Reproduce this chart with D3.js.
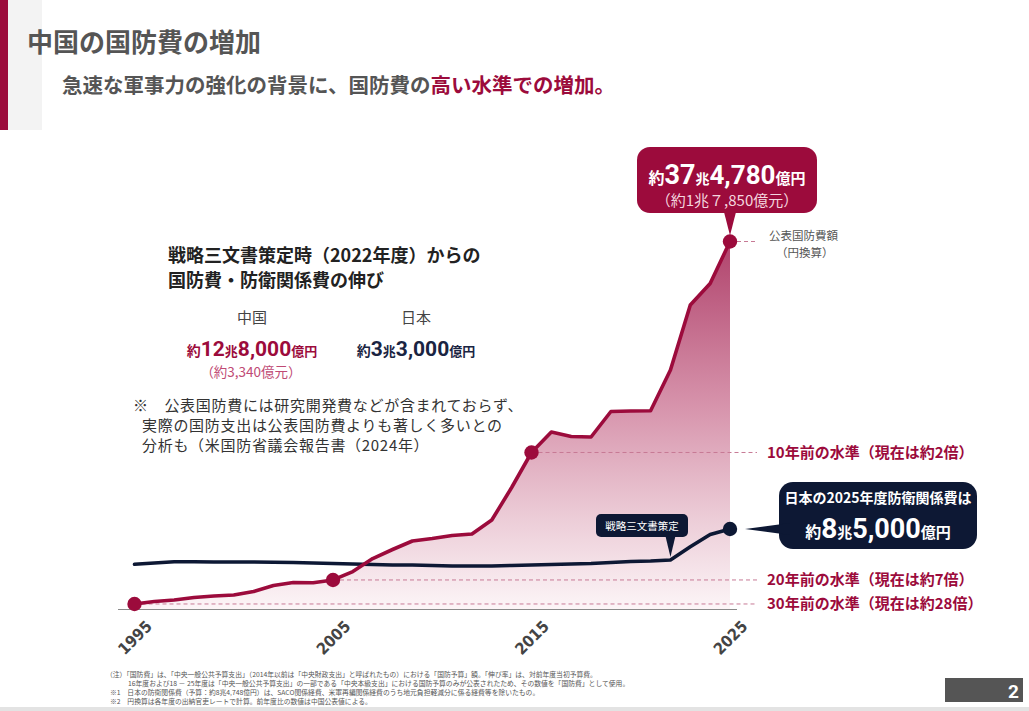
<!DOCTYPE html>
<html><head><meta charset="utf-8">
<script src="https://cdn.jsdelivr.net/npm/d3@7"></script>
<style>
html,body{margin:0;padding:0;background:#fff;}
svg{display:block;font-family:"Noto Sans CJK JP","Noto Sans",sans-serif;}
</style></head><body>
<svg id="chart" width="1029" height="711"></svg>
<script>
// ---- data (兆円) ----
const years = [1995,1996,1997,1998,1999,2000,2001,2002,2003,2004,2005,2006,2007,2008,2009,2010,
  2011,2012,2013,2014,2015,2016,2017,2018,2019,2020,2021,2022,2023,2024,2025];
const chinaValues = [0.94,1.19,1.34,1.59,1.74,1.84,2.20,2.80,3.10,3.08,3.36,4.21,5.52,6.43,7.29,7.54,
  7.84,7.99,9.40,12.68,16.21,18.27,17.82,17.77,20.34,20.39,20.42,24.52,31.08,33.24,37.478];
const japanValues = [4.94,5.07,5.20,5.19,5.17,5.17,5.17,5.15,5.12,5.07,5.02,4.97,4.92,4.87,4.87,4.82,
  4.77,4.77,4.77,4.82,4.87,4.92,4.97,5.02,5.12,5.22,5.27,5.37,6.70,7.94,8.50];
const markerYears = [1995,2005,2015,2025];
const tickYears = [1995,2005,2015,2025];
const levelYears = [2015,2005,1995];
const levelLabels = ["10年前の水準（現在は約2倍）","20年前の水準（現在は約7倍）","30年前の水準（現在は約28倍）"];
const strategyYear = 2022;
const footnotes = [
  "（注）「国防費」は、「中央一般公共予算支出」（2014年以前は「中央財政支出」と呼ばれたもの）における「国防予算」額。「伸び率」は、対前年度当初予算費。",
  "16年度および18 － 25年度は「中央一般公共予算支出」の一部である「中央本級支出」における国防予算のみが公表されたため、その数値を「国防費」として使用。",
  "※1　日本の防衛関係費（予算：約8兆4,748億円）は、SACO関係経費、米軍再編関係経費のうち地元負担軽減分に係る経費等を除いたもの。",
  "※2　円換算は各年度の出納官吏レートで計算。前年度比の数値は中国公表値による。"
];

const CRIMSON = "#9c0b3c", NAVY = "#0d1834", GRAY = "#555";
const NUM = "Roboto,'Noto Sans',sans-serif";

const svg = d3.select("#chart");
svg.append("rect").attr("width",1029).attr("height",711).attr("fill","#fff");

// header decoration
svg.append("rect").attr("x",0).attr("y",0).attr("width",8).attr("height",130).attr("fill",CRIMSON);
svg.append("rect").attr("x",8).attr("y",0).attr("width",34).attr("height",130).attr("fill","#f3f3f3");

svg.append("text").attr("x",27).attr("y",52).attr("font-size",26).attr("font-weight","bold")
  .attr("fill",GRAY).text("中国の国防費の増加");
const sub = svg.append("text").attr("x",62).attr("y",93).attr("font-size",20.5).attr("font-weight","bold").attr("fill",GRAY);
sub.append("tspan").text("急速な軍事力の強化の背景に、国防費の");
sub.append("tspan").attr("fill",CRIMSON).text("高い水準での増加。");

// scales
const x = d3.scaleLinear().domain([1995,2025]).range([134.5,730]);
const y = d3.scaleLinear().domain([0,37.478]).range([613.3,241.5]);
const axisY = 609.5;

const china = years.map((yr,i)=>({yr, v:chinaValues[i]}));
const japan = years.map((yr,i)=>({yr, v:japanValues[i]}));

// gradient
const defs = svg.append("defs");
const grad = defs.append("linearGradient").attr("id","fillGrad").attr("gradientUnits","userSpaceOnUse")
  .attr("x1",0).attr("x2",0).attr("y1",y(37.478)).attr("y2",axisY);
grad.append("stop").attr("offset","0%").attr("stop-color","#b0436c");
grad.append("stop").attr("offset","45%").attr("stop-color","#d794ac");
grad.append("stop").attr("offset","75%").attr("stop-color","#ecccd7");
grad.append("stop").attr("offset","100%").attr("stop-color","#fcf5f7");

svg.append("path").datum(china)
  .attr("d", d3.area().x(d=>x(d.yr)).y0(axisY).y1(d=>y(d.v)))
  .attr("fill","url(#fillGrad)");

// baseline
svg.append("line").attr("x1",118).attr("x2",737).attr("y1",axisY).attr("y2",axisY)
  .attr("stroke","#8a8a8a").attr("stroke-width",1);

// dashed level lines
const valOf = yr => chinaValues[years.indexOf(yr)];
svg.append("line").attr("x1",x(2025)).attr("x2",757).attr("y1",y(valOf(2025))).attr("y2",y(valOf(2025)))
  .attr("stroke","#c77a95").attr("stroke-width",1).attr("stroke-dasharray","4,3");
levelYears.forEach((yr,i)=>{
  const yy = y(valOf(yr));
  svg.append("line").attr("x1",x(yr)).attr("x2",757).attr("y1",yy).attr("y2",yy)
    .attr("stroke","#c77a95").attr("stroke-width",1).attr("stroke-dasharray","4,3");
  svg.append("text").attr("x",767).attr("y",yy+5.5).attr("font-size",15).attr("font-weight","bold")
    .attr("fill",CRIMSON).text(levelLabels[i]);
});

// lines
const line = d3.line().x(d=>x(d.yr)).y(d=>y(d.v));
svg.append("path").datum(japan).attr("d",line).attr("fill","none").attr("stroke",NAVY)
  .attr("stroke-width",3.6).attr("stroke-linejoin","round").attr("stroke-linecap","round");
svg.append("path").datum(china).attr("d",line).attr("fill","none").attr("stroke",CRIMSON)
  .attr("stroke-width",3.6).attr("stroke-linejoin","round").attr("stroke-linecap","round");

svg.selectAll("circle.cn").data(markerYears).enter().append("circle")
  .attr("cx",d=>x(d)).attr("cy",d=>y(valOf(d))).attr("r",7.2).attr("fill",CRIMSON);
const jp25 = japanValues[years.indexOf(2025)];
svg.append("circle").attr("cx",x(2025)).attr("cy",y(jp25)).attr("r",7.2).attr("fill",NAVY);

// axis labels
const ax = svg.append("g").attr("transform",`translate(0,${axisY})`)
  .call(d3.axisBottom(x).tickValues(tickYears).tickFormat(d3.format("d")).tickSize(0));
ax.select(".domain").remove();
ax.selectAll("text").attr("x",0).attr("y",0).attr("dy",0)
  .attr("text-anchor","end").attr("transform","translate(18,18) rotate(-45)")
  .attr("font-family","'DejaVu Sans Condensed','Roboto Condensed',Roboto,sans-serif")
  .attr("font-size",16).attr("font-weight","bold").attr("fill","#444");

function rich(parent, px, py, anchor, fill, parts){
  const t = parent.append("text").attr("x",px).attr("y",py).attr("text-anchor",anchor).attr("fill",fill).attr("font-weight","bold");
  parts.forEach(p=>{
    const s = t.append("tspan").attr("font-size",p.s).text(p.t);
    if(p.f) s.attr("font-family",p.f);
  });
  return t;
}

// top callout
const cx25 = x(2025), cy25 = y(valOf(2025));
svg.append("rect").attr("x",637).attr("y",147).attr("width",180).attr("height",66).attr("rx",13).attr("fill",CRIMSON);
svg.append("path").attr("d",`M${cx25-6},212 L${cx25+6},212 L${cx25},${cy25-6} Z`).attr("fill",CRIMSON);
rich(svg,727,184,"middle","#fff",[
  {t:"約",s:16},{t:"37",s:27,f:NUM},{t:"兆",s:14},{t:"4,780",s:26,f:NUM},{t:"億円",s:15}]);
svg.append("text").attr("x",727).attr("y",206).attr("text-anchor","middle").attr("font-size",15)
  .attr("fill","#f4d6df").text("（約1兆７,850億元）");

svg.append("text").attr("x",769).attr("y",240).attr("font-size",11.5).attr("fill",GRAY).text("公表国防費額");
svg.append("text").attr("x",776).attr("y",257).attr("font-size",11.5).attr("fill",GRAY).text("（円換算）");

// strategy callout
const sx = x(strategyYear), sy = y(japanValues[years.indexOf(strategyYear)]);
svg.append("rect").attr("x",596).attr("y",514).attr("width",92).attr("height",23).attr("rx",5).attr("fill",NAVY);
svg.append("path").attr("d",`M${sx-5},536 L${sx+5},536 L${sx},${sy-3} Z`).attr("fill",NAVY);
svg.append("text").attr("x",642).attr("y",529.5).attr("text-anchor","middle").attr("font-size",10.5)
  .attr("fill","#fff").text("戦略三文書策定");

// japan callout
const jy = y(jp25);
svg.append("rect").attr("x",779).attr("y",482).attr("width",198).attr("height",67).attr("rx",14).attr("fill",NAVY);
svg.append("path").attr("d",`M${cx25+15},${jy} L${790},${jy-6} L${790},${jy+6} Z`).attr("fill",NAVY);
svg.append("text").attr("x",878).attr("y",503).attr("text-anchor","middle").attr("font-size",14)
  .attr("font-weight","bold").attr("fill","#fff").text("日本の2025年度防衛関係費は");
rich(svg,878,538,"middle","#fff",[
  {t:"約",s:16},{t:"8",s:28,f:NUM},{t:"兆",s:15},{t:"5,000",s:27,f:NUM},{t:"億円",s:15}]);

// left text block
svg.append("text").attr("x",168).attr("y",262).attr("font-size",18).attr("font-weight","bold").attr("fill","#222")
  .text("戦略三文書策定時（2022年度）からの");
svg.append("text").attr("x",168).attr("y",287).attr("font-size",18).attr("font-weight","bold").attr("fill","#222")
  .text("国防費・防衛関係費の伸び");
svg.append("text").attr("x",252).attr("y",323).attr("text-anchor","middle").attr("font-size",15).attr("fill","#444").text("中国");
svg.append("text").attr("x",416).attr("y",323).attr("text-anchor","middle").attr("font-size",15).attr("fill","#444").text("日本");
rich(svg,252,356,"middle",CRIMSON,[
  {t:"約",s:14},{t:"12",s:21,f:NUM},{t:"兆",s:13},{t:"8,000",s:21,f:NUM},{t:"億円",s:13}]);
svg.append("text").attr("x",251).attr("y",377).attr("text-anchor","middle").attr("font-size",13.5)
  .attr("fill","#c04a74").text("（約3,340億元）");
rich(svg,416,356,"middle","#1a2442",[
  {t:"約",s:14},{t:"3",s:21,f:NUM},{t:"兆",s:13},{t:"3,000",s:21,f:NUM},{t:"億円",s:13}]);

const noteLines = [
  {t:"※　公表国防費には研究開発費などが含まれておらず、",x:133,y:411},
  {t:"実際の国防支出は公表国防費よりも著しく多いとの",x:142,y:431},
  {t:"分析も（米国防省議会報告書（2024年）",x:142,y:451}
];
noteLines.forEach(l=>{
  svg.append("text").attr("x",l.x).attr("y",l.y).attr("font-size",15).attr("letter-spacing",0.7)
    .attr("fill","#333").text(l.t);
});

// footnotes
const fnX = [106,128,110,110], fnY = [677,686,695,704];
footnotes.forEach((t,i)=>{
  svg.append("text").attr("x",fnX[i]).attr("y",fnY[i]).attr("font-size",6.8).attr("fill","#555").text(t);
});

// page number & bottom band
svg.append("rect").attr("x",945).attr("y",678).attr("width",78).attr("height",24).attr("fill","#555");
svg.append("text").attr("x",1019).attr("y",697.5).attr("text-anchor","end").attr("font-size",19)
  .attr("font-family",NUM).attr("font-weight","bold").attr("fill","#fff").text("2");
svg.append("rect").attr("x",0).attr("y",707).attr("width",1029).attr("height",4).attr("fill","#e3e3e3");
</script>
</body></html>
